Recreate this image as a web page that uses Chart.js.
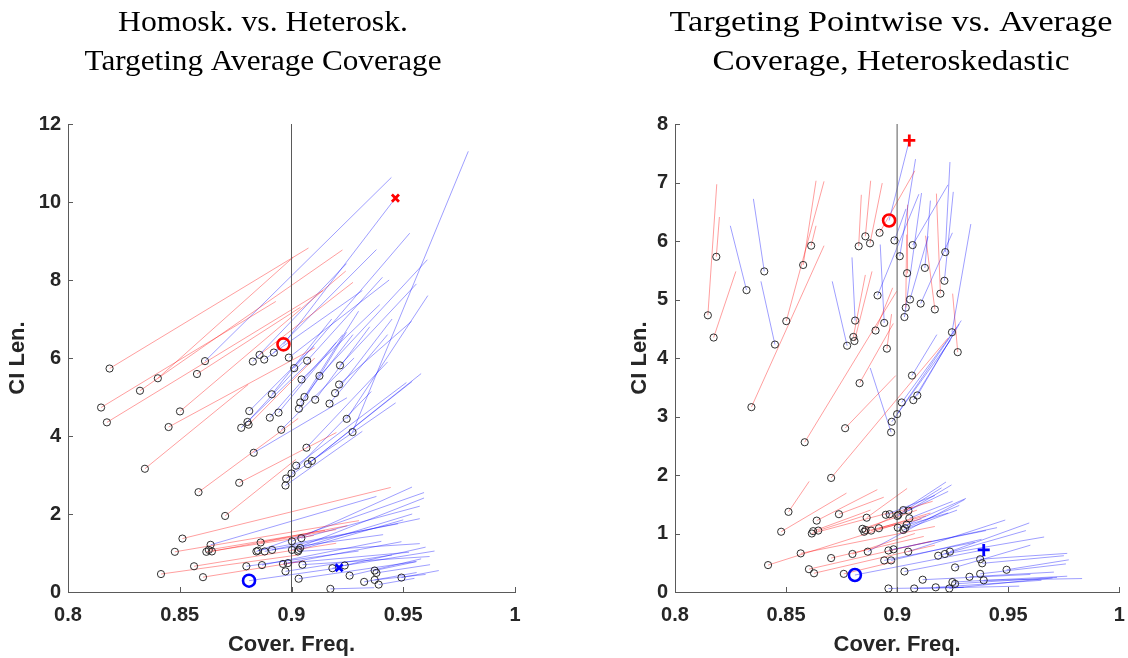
<!DOCTYPE html>
<html><head><meta charset="utf-8">
<script src="https://cdn.jsdelivr.net/npm/chart.js@4.4.1/dist/chart.umd.min.js"></script>
<style>
html,body{margin:0;padding:0;background:#fff;width:1128px;height:658px;overflow:hidden}
.panel{position:absolute;top:0;width:564px;height:658px}
</style></head><body>
<div class="panel" style="left:0"><canvas id="cL" width="564" height="658"></canvas></div>
<div class="panel" style="left:564px"><canvas id="cR" width="564" height="658"></canvas></div>
<script>
// ---------- titles / labels ----------
const LEFT_TITLE = ['Homosk. vs. Heterosk.', 'Targeting Average Coverage'];
const RIGHT_TITLE = ['Targeting Pointwise vs. Average', 'Coverage, Heteroskedastic'];
const X_LABEL = 'Cover. Freq.';
const Y_LABEL = 'CI Len.';
const X_TICK_VALUES = [0.8, 0.85, 0.9, 0.95, 1];
const X_TICK_LABELS = ['0.8', '0.85', '0.9', '0.95', '1'];
const LEFT_Y_TICKS = [0, 2, 4, 6, 8, 10, 12];
const RIGHT_Y_TICKS = [0, 1, 2, 3, 4, 5, 6, 7, 8];
const TARGET_COVERAGE = 0.9;

// ---------- upper cluster circles (shared by both panels) ----------
const UP_X = [0.8186,0.8148,0.8174,0.8322,0.8402,0.8450,0.8501,0.8577,0.8613,0.8827,0.8857,0.8878,0.8921,
  0.8988,0.9012,0.9070,0.9045,0.9125,0.9217,0.9213,0.9195,0.9170,0.9106,0.9058,0.9039,0.9033,0.8912,
  0.8811,0.8803,0.8808,0.8775,0.8903,0.8942,0.8954,0.9247,0.9273,0.9067,0.8831,0.8344,0.8584,0.8766,
  0.8703,0.8973,0.8976,0.9000,0.9021,0.9073,0.9091];
const UP_Y = [5.73,4.73,4.35,5.16,5.48,4.23,4.63,5.59,5.92,5.91,6.08,5.96,6.14,
  6.01,5.74,5.93,5.45,5.54,5.81,5.32,5.10,4.83,4.93,5.00,4.86,4.70,5.07,
  4.64,4.36,4.29,4.21,4.47,4.60,4.16,4.44,4.10,3.70,3.57,3.16,2.56,2.80,
  1.95,2.73,2.91,3.04,3.24,3.28,3.36];
// left panel: homoskedastic counterparts
const L_UP_END_X = [0.9076,0.8930,0.9141,0.9228,0.9007,0.9104,0.9243,0.9040,0.9447,0.9246,0.9275,0.9317,0.9380,
  0.9437,0.9529,0.9407,0.9395,0.9608,0.9559,0.9537,0.9450,0.9430,0.9350,0.9300,0.9275,0.9246,0.9180,
  0.9100,0.9050,0.9104,0.9080,0.9200,0.9230,0.9280,0.9610,0.9791,0.9430,0.9248,0.8806,0.9030,0.9201,
  0.9020,0.9317,0.9466,0.9357,0.9514,0.9580,0.9540];
const L_UP_END_Y = [8.82,7.45,7.73,8.77,8.58,6.26,8.23,7.30,10.63,8.42,7.94,7.73,8.78,
  8.00,9.20,8.07,7.37,8.52,7.90,6.94,7.00,6.60,6.80,7.20,6.60,6.66,7.00,
  6.30,5.90,6.00,5.90,6.40,6.60,6.00,7.60,11.30,5.90,4.98,5.32,4.45,4.09,
  3.40,4.12,4.85,5.14,5.37,5.60,5.40];
const L_UP_COL = ['r','r','r','r','r','r','r','r','b','b','r','b','b',
  'b','b','b','b','b','b','b','b','b','b','b','b','b','b',
  'b','b','r','b','b','b','b','b','b','b','b','r','r','r',
  'r','b','b','b','b','b','b'];
// right panel: pointwise counterparts
const R_UP_END_X = [0.8200,0.8188,0.8274,0.8249,0.8353,0.8387,0.8671,0.8635,0.8635,0.8839,0.8881,0.8933,0.9080,
  0.9040,0.9083,0.9229,0.9047,0.9150,0.9238,0.9253,0.9177,0.9128,0.9249,0.9140,0.9043,0.9110,0.9098,
  0.8797,0.8857,0.8887,0.8708,0.8980,0.8924,0.8975,0.9332,0.9250,0.9179,0.8983,0.8671,0.8998,0.8994,
  0.9229,0.8879,0.9240,0.9289,0.9267,0.9250,0.9280];
const R_UP_END_Y = [6.41,6.97,5.48,6.26,6.72,5.31,7.02,7.03,6.26,6.79,7.03,6.99,7.20,
  6.55,7.40,6.96,6.62,6.69,7.35,6.84,6.81,6.09,6.14,6.08,6.11,6.82,6.80,
  5.72,5.42,5.48,5.31,5.20,5.94,4.75,6.29,5.10,4.40,4.59,5.92,5.14,3.70,
  4.34,3.83,4.30,4.64,4.52,4.38,4.58];
const R_UP_COL = ['r','r','r','b','b','b','r','r','r','r','r','r','r',
  'b','b','b','r','b','b','b','r','r','b','b','r','b','b',
  'b','r','r','b','r','b','r','b','r','b','r','r','r','r',
  'r','b','b','b','b','b','b'];

// ---------- lower cluster, left panel ----------
const L_LOW_X = [0.8512,0.8478,0.8416,0.8564,0.8604,0.8638,0.8619,0.8630,0.8644,0.8798,0.8862,0.8843,0.8850,
  0.8880,0.8913,0.8868,0.8962,0.8984,0.8973,0.9002,0.9002,0.9044,0.9032,0.9039,0.9029,0.9049,0.9032,
  0.9174,0.9183,0.9238,0.9260,0.9325,0.9372,0.9380,0.9372,0.9390,0.9492];
const L_LOW_Y = [1.37,1.03,0.46,0.66,0.38,1.21,1.03,1.08,1.04,0.66,1.27,1.04,1.06,
  1.04,1.08,0.69,0.72,0.74,0.53,1.30,1.08,1.38,1.08,1.13,1.04,0.70,0.34,
  0.08,0.61,0.68,0.42,0.26,0.55,0.49,0.31,0.19,0.37];
const L_LOW_END_X = [0.9444,0.9302,0.9030,0.9200,0.9060,0.9380,0.9100,0.9150,0.9250,0.9300,0.9200,0.9593,0.9477,
  0.9574,0.9410,0.9402,0.9492,0.9526,0.9450,0.9539,0.9593,0.9574,0.9500,0.9540,0.9574,0.9618,0.9556,
  0.9370,0.9600,0.9640,0.9580,0.9560,0.9560,0.9620,0.9600,0.9550,0.9659];
const L_LOW_END_Y = [2.68,1.83,0.95,1.25,0.80,2.45,1.45,1.58,1.70,1.05,1.60,2.55,1.75,
  1.88,1.47,1.30,1.29,1.02,0.95,2.69,2.41,2.20,1.85,2.00,1.24,0.91,0.78,
  0.11,1.15,1.05,0.85,0.50,0.78,0.70,0.45,0.35,0.55];
const L_LOW_COL = ['r','r','r','r','r','b','r','r','r','b','r','b','b',
  'b','b','b','b','b','b','b','b','b','b','b','b','b','b',
  'b','b','b','b','b','b','b','b','b','b'];

// ---------- lower cluster, right panel ----------
const R_LOW_X = [0.8511,0.8478,0.8419,0.8566,0.8603,0.8626,0.8638,0.8622,0.8616,0.8645,0.8738,0.8703,0.8760,
  0.8799,0.8863,0.8844,0.8852,0.8858,0.8883,0.8918,0.8868,0.8949,0.8966,0.9006,0.9001,0.9028,0.9051,
  0.9055,0.9003,0.9028,0.9036,0.9043,0.8961,0.8984,0.9050,0.8942,0.8973,0.9033,0.8961,0.9077,0.9115,
  0.9174,0.9235,0.9249,0.9261,0.9326,0.9374,0.9390,0.9493,0.9261,0.9374,0.9383,0.9185,0.9215,0.9238];
const R_LOW_Y = [1.37,1.03,0.46,0.66,0.39,0.32,1.22,1.04,1.00,1.05,1.33,0.58,0.31,
  0.65,1.27,1.08,1.03,1.06,1.05,1.09,0.69,1.32,1.33,1.32,1.30,1.40,1.39,
  1.26,1.10,1.06,1.09,1.15,0.71,0.73,0.69,0.54,0.54,0.35,0.06,0.06,0.21,
  0.08,0.06,0.17,0.14,0.26,0.31,0.20,0.38,0.42,0.56,0.49,0.62,0.65,0.69];
const R_LOW_END_X = [0.8604,0.8772,0.8990,0.9170,0.9155,0.9170,0.8911,0.8880,0.8960,0.8850,0.8940,0.9120,0.8990,
  0.9080,0.9045,0.9090,0.9130,0.9070,0.9110,0.9150,0.9304,0.9170,0.9160,0.9200,0.9230,0.9220,0.9245,
  0.9250,0.9230,0.9270,0.9280,0.9310,0.9450,0.9400,0.9487,0.9350,0.9380,0.9400,0.9300,0.9550,0.9600,
  0.9650,0.9700,0.9766,0.9720,0.9706,0.9760,0.9833,0.9773,0.9600,0.9766,0.9751,0.9580,0.9662,0.9595];
const R_LOW_END_Y = [1.89,1.69,1.15,1.12,0.87,0.80,1.75,1.40,1.35,1.30,1.62,0.95,0.52,
  1.00,1.77,1.40,1.30,1.45,1.25,1.35,1.58,1.65,1.55,1.78,1.72,1.88,1.83,
  1.55,1.35,1.40,1.48,1.60,1.10,1.05,1.23,0.85,0.90,0.62,0.08,0.10,0.30,
  0.20,0.24,0.27,0.25,0.34,0.48,0.23,0.55,0.80,0.66,0.62,1.05,0.94,1.18];
const R_LOW_COL = ['r','r','r','r','r','r','r','r','r','r','r','r','r',
  'r','r','r','r','r','r','r','b','b','r','b','b','b','b',
  'b','b','b','b','b','b','b','b','b','b','b','b','b','b',
  'b','b','b','b','b','b','b','b','b','b','b','b','b','b'];

// ---------- highlighted designs ----------
const HL_RED = [0.8964, 6.35];
const HL_BLUE = [0.8810, 0.29];
const L_HL_RED_END = [0.9465, 10.10];
const L_HL_BLUE_END = [0.9213, 0.62];
const R_HL_RED_END = [0.9055, 7.72];
const R_HL_BLUE_END = [0.9390, 0.72];

// ---------- styling ----------
const RED_LINE = 'rgba(255,0,0,0.38)';
const BLUE_LINE = 'rgba(0,0,255,0.38)';
const AXIS_COLOR = '#5a5a5a';
const TEXT_COLOR = '#262626';
const TICK_FONT = {family: '"Liberation Sans", Arial, sans-serif', weight: 'bold', size: 20};
const LABEL_FONT = {family: '"Liberation Sans", Arial, sans-serif', weight: 'bold', size: 22, lineHeight: 1.2};

function pts(xs, ys) { return xs.map((x, i) => ({x: x, y: ys[i]})); }

function segmentDatasets(sx, sy, ex, ey, col) {
  return sx.map((x, i) => ({
    type: 'scatter', showLine: true,
    data: [{x: x, y: sy[i]}, {x: ex[i], y: ey[i]}],
    borderColor: col[i] === 'r' ? RED_LINE : BLUE_LINE,
    borderWidth: 1, pointRadius: 0, pointHoverRadius: 0, order: 10
  }));
}

const insideTicks = {
  id: 'insideTicks',
  afterDraw(chart) {
    const ctx = chart.ctx, a = chart.chartArea;
    const xs = chart.scales.x, ys = chart.scales.y;
    ctx.save();
    ctx.strokeStyle = AXIS_COLOR; ctx.lineWidth = 1;
    ctx.beginPath();
    xs.ticks.forEach(t => {
      const p = Math.round(xs.getPixelForValue(t.value)) + 0.5;
      ctx.moveTo(p, a.bottom); ctx.lineTo(p, a.bottom - 5);
    });
    ys.ticks.forEach(t => {
      const p = Math.round(ys.getPixelForValue(t.value)) + 0.5;
      ctx.moveTo(a.left, p); ctx.lineTo(a.left + 5, p);
    });
    ctx.stroke();
    ctx.restore();
  }
};

// Serif two-line panel title, each line stretched to the width measured in the reference
const panelTitle = {
  id: 'panelTitle',
  afterDraw(chart, args, opts) {
    const ctx = chart.ctx;
    ctx.save();
    ctx.fillStyle = '#000';
    ctx.font = '30px "Liberation Serif", "Times New Roman", serif';
    ctx.textAlign = 'center';
    ctx.textBaseline = 'alphabetic';
    opts.lines.forEach((l, i) => {
      const w = ctx.measureText(l).width;
      const sx = opts.widths[i] / w;
      ctx.save();
      ctx.translate(opts.cx, 31 + i * 39);
      ctx.scale(sx, 1);
      ctx.fillText(l, 0, 0);
      ctx.restore();
    });
    ctx.restore();
  }
};

function makePanel(id, cfg) {
  const circlePts = pts(cfg.upX, cfg.upY).concat(pts(cfg.lowX, cfg.lowY));
  const datasets = [
    {data: [{x: HL_RED[0], y: HL_RED[1]}], pointStyle: 'circle', pointRadius: 6, borderWidth: 2.6,
     borderColor: '#ff0000', backgroundColor: 'rgba(0,0,0,0)', order: 0},
    {data: [{x: HL_BLUE[0], y: HL_BLUE[1]}], pointStyle: 'circle', pointRadius: 6, borderWidth: 2.6,
     borderColor: '#0000ff', backgroundColor: 'rgba(0,0,0,0)', order: 0},
    {data: [{x: cfg.redEnd[0], y: cfg.redEnd[1]}], pointStyle: cfg.endStyle, pointRadius: cfg.endRadius, borderWidth: 2.8,
     borderColor: '#ff0000', backgroundColor: '#ff0000', order: 0},
    {data: [{x: cfg.blueEnd[0], y: cfg.blueEnd[1]}], pointStyle: cfg.endStyle, pointRadius: cfg.endRadius, borderWidth: 2.8,
     borderColor: '#0000ff', backgroundColor: '#0000ff', order: 0},
    {data: circlePts, pointStyle: 'circle', pointRadius: 3.6, borderWidth: 0.9,
     borderColor: '#1a1a1a', backgroundColor: 'rgba(0,0,0,0)', order: 1},
    {type: 'scatter', showLine: true, data: [{x: TARGET_COVERAGE, y: 0}, {x: TARGET_COVERAGE, y: cfg.yMax}],
     borderColor: '#5a5a5a', borderWidth: 1, pointRadius: 0, order: 5},
    {type: 'scatter', showLine: true, data: [{x: HL_RED[0], y: HL_RED[1]}, {x: cfg.redEnd[0], y: cfg.redEnd[1]}],
     borderColor: BLUE_LINE, borderWidth: 1, pointRadius: 0, order: 10},
    {type: 'scatter', showLine: true, data: [{x: HL_BLUE[0], y: HL_BLUE[1]}, {x: cfg.blueEnd[0], y: cfg.blueEnd[1]}],
     borderColor: BLUE_LINE, borderWidth: 1, pointRadius: 0, order: 10}
  ].concat(segmentDatasets(cfg.upX, cfg.upY, cfg.upEX, cfg.upEY, cfg.upCol))
   .concat(segmentDatasets(cfg.lowX, cfg.lowY, cfg.lowEX, cfg.lowEY, cfg.lowCol));

  return new Chart(document.getElementById(id), {
    type: 'scatter',
    data: {datasets: datasets},
    options: {
      responsive: false, animation: false, devicePixelRatio: 1,
      layout: {padding: {left: cfg.padLeft, right: cfg.padRight, top: 124, bottom: 0}},
      plugins: {legend: {display: false}, tooltip: {enabled: false},
        panelTitle: {lines: cfg.title, cx: cfg.titleCx, widths: cfg.titleWidths}},
      scales: {
        x: {type: 'linear', min: 0.8, max: 1,
          afterBuildTicks: s => { s.ticks = X_TICK_VALUES.map(v => ({value: v})); },
          afterFit: s => { s.height = 66; s.paddingLeft = 0; s.paddingRight = 0; },
          grid: {display: false, drawTicks: false},
          border: {display: true, color: AXIS_COLOR, width: 1},
          ticks: {font: TICK_FONT, color: TEXT_COLOR, padding: 11, maxRotation: 0,
            callback: (v, i) => X_TICK_LABELS[i]},
          title: {display: true, text: X_LABEL, font: LABEL_FONT, color: TEXT_COLOR, padding: {top: 0, bottom: 0}}
        },
        y: {type: 'linear', min: 0, max: cfg.yMax,
          afterBuildTicks: s => { s.ticks = cfg.yTicks.map(v => ({value: v})); },
          afterFit: s => { s.width = 68; s.paddingTop = 0; s.paddingBottom = 0; },
          grid: {display: false, drawTicks: false},
          border: {display: true, color: AXIS_COLOR, width: 1},
          ticks: {font: TICK_FONT, color: TEXT_COLOR, padding: 7,
            callback: (v, i) => String(cfg.yTicks[i])},
          title: {display: true, text: Y_LABEL, font: LABEL_FONT, color: TEXT_COLOR, padding: {top: cfg.yTitlePad, bottom: 0}}
        }
      }
    },
    plugins: [insideTicks, panelTitle]
  });
}

makePanel('cL', {
  title: LEFT_TITLE, titleCx: 263, titleWidths: [290, 357], padLeft: 0, padRight: 49, yTitlePad: 5,
  yMax: 12, yTicks: LEFT_Y_TICKS,
  upX: UP_X, upY: UP_Y, upEX: L_UP_END_X, upEY: L_UP_END_Y, upCol: L_UP_COL,
  lowX: L_LOW_X, lowY: L_LOW_Y, lowEX: L_LOW_END_X, lowEY: L_LOW_END_Y, lowCol: L_LOW_COL,
  redEnd: L_HL_RED_END, blueEnd: L_HL_BLUE_END, endStyle: 'crossRot', endRadius: 5
});
makePanel('cR', {
  title: RIGHT_TITLE, titleCx: 327, titleWidths: [443, 357], padLeft: 43, padRight: 6, yTitlePad: 20,
  yMax: 8, yTicks: RIGHT_Y_TICKS,
  upX: UP_X, upY: UP_Y, upEX: R_UP_END_X, upEY: R_UP_END_Y, upCol: R_UP_COL,
  lowX: R_LOW_X, lowY: R_LOW_Y, lowEX: R_LOW_END_X, lowEY: R_LOW_END_Y, lowCol: R_LOW_COL,
  redEnd: R_HL_RED_END, blueEnd: R_HL_BLUE_END, endStyle: 'cross', endRadius: 6
});
</script>
</body></html>
